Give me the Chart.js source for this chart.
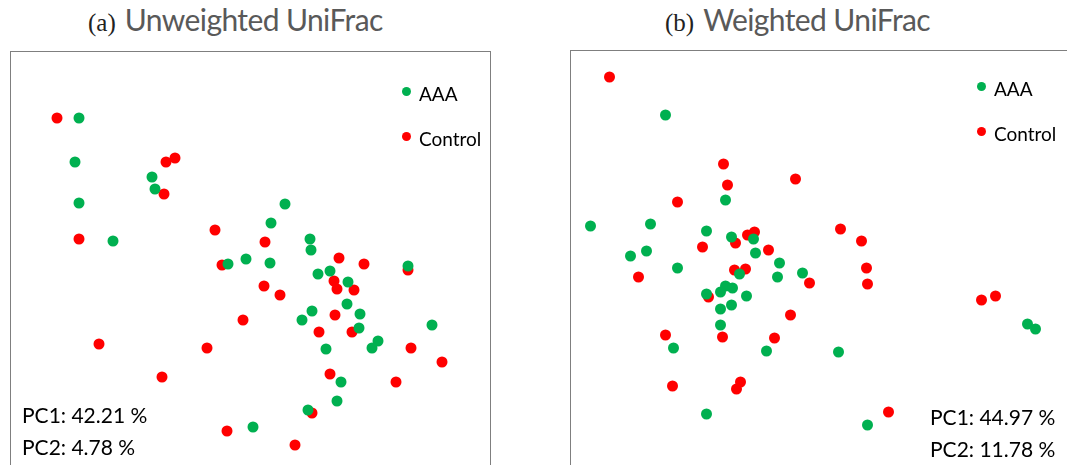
<!DOCTYPE html>
<html>
<head>
<meta charset="utf-8">
<script src="https://cdn.jsdelivr.net/npm/chart.js@4.4.0/dist/chart.umd.min.js"></script>
<style>
  html, body { margin: 0; padding: 0; background: #fff; }
  #page { position: relative; width: 1067px; height: 465px; overflow: hidden; font-family: Lato, "Open Sans", sans-serif; }
  .title { position: absolute; top: 1px; white-space: nowrap; color: #595959; font-size: 30px; letter-spacing: -0.6px; }
  .title .tag { font-family: "Liberation Serif", "DejaVu Serif", serif; color: #222; font-size: 25px; margin-right: 9px; letter-spacing: 0; }
  .box { position: absolute; border: 1.5px solid #7f7f7f; box-sizing: border-box; }
  .box canvas { position: absolute; left: 0; top: 0; }
  .legend { position: absolute; font-size: 19px; color: #000; line-height: 1; }
  .legend div { position: relative; height: 45px; padding-left: 17px; }
  .legend span.dot { position: absolute; left: 0; top: 3px; width: 9px; height: 9px; border-radius: 50%; }
  .pc { position: absolute; font-size: 21px; color: #000; line-height: 32px; white-space: nowrap; }
</style>
</head>
<body>
<div id="page">
  <div class="title" style="left:88px"><span class="tag">(a)</span>Unweighted UniFrac</div>
  <div class="title" style="left:665px"><span class="tag">(b)</span>Weighted UniFrac</div>

  <div class="box" id="boxA" style="left:10px; top:51px; width:481px; height:430px">
    <canvas id="chartA" width="478" height="427"></canvas>
  </div>
  <div class="box" id="boxB" style="left:570px; top:50px; width:520px; height:430px">
    <canvas id="chartB" width="517" height="427"></canvas>
  </div>

  <div class="legend" style="left:402px; top:84px">
    <div><span class="dot" style="background:#00b050"></span>AAA</div>
    <div><span class="dot" style="background:#ff0000"></span>Control</div>
  </div>
  <div class="legend" style="left:977px; top:79px">
    <div><span class="dot" style="background:#00b050"></span>AAA</div>
    <div><span class="dot" style="background:#ff0000"></span>Control</div>
  </div>

  <div class="pc" style="left:22px; top:399px">PC1: 42.21 %<br>PC2: 4.78 %</div>
  <div class="pc" style="left:930px; top:401px">PC1: 44.97 %<br>PC2: 11.78 %</div>
</div>

<script>
// PCoA scores (arbitrary units, x1000)
const groups = ['AAA', 'Control']
const colors = ['#00b050', '#ff0000']

const unweightedAAA = [
  [-172, 143], [-176, 99], [-99, 84], [-96, 72], [-172, 58], [34, 57], [20, 38], [-138, 20],
  [59, 22], [60, 11], [157, -5], [-23, -3], [-5, 2], [19, -2], [67, -13], [79, -10],
  [97, -21], [96, -43], [61, -50], [109, -53], [51, -59], [108, -67], [181, -64], [127, -80],
  [121, -87], [75, -88], [90, -121], [86, -140], [57, -149], [2, -166]
]
const unweightedControl = [
  [-194, 143], [-85, 99], [-76, 103], [-87, 67], [-36, 31], [-172, 22], [14, 19], [88, 3],
  [113, -3], [157, -9], [-29, -4], [83, -20], [86, -28], [103, -29], [13, -25], [29, -34],
  [84, -54], [-8, -59], [68, -71], [101, -71], [-152, -83], [-44, -87], [160, -87], [191, -101],
  [-89, -116], [79, -113], [145, -121], [61, -152], [-24, -170], [44, -184]
]

const weightedAAA = [
  [-155, 145], [-95, 60], [-230, 34], [-170, 36], [-114, 29], [-89, 23], [-67, 21], [-190, 4],
  [-174, 9], [-65, 7], [-41, -3], [-143, -8], [-81, -14], [-43, -17], [-18, -13], [-95, -26],
  [-88, -28], [-100, -32], [-114, -34], [-74, -36], [-89, -45], [-100, -49], [-100, -65], [207, -64],
  [215, -69], [-147, -88], [-54, -91], [18, -92], [-114, -154], [47, -165]
]
const weightedControl = [
  [-211, 183], [-97, 96], [-93, 75], [-25, 81], [-143, 58], [20, 31], [-73, 25], [-66, 28],
  [-85, 17], [41, 19], [-118, 13], [-52, 10], [-86, -10], [-75, -9], [46, -8], [-182, -17],
  [-11, -23], [47, -24], [-112, -37], [161, -40], [175, -36], [-30, -55], [-155, -75], [-98, -77],
  [-46, -78], [-80, -122], [-84, -129], [-148, -126], [68, -152]
]

const toXY = arr => arr.map(p => ({ x: p[0], y: p[1] }))

function makeChart(id, series, xRange, yRange) {
  return new Chart(document.getElementById(id), {
    type: 'scatter',
    data: {
      datasets: series.map((s, i) => ({
        label: groups[i],
        data: toXY(s),
        backgroundColor: colors[i],
        borderColor: colors[i],
        pointRadius: 5.5,
        pointHoverRadius: 5.5,
        borderWidth: 0,
        clip: false
      }))
    },
    options: {
      responsive: false,
      animation: false,
      layout: { padding: 0, autoPadding: false },
      plugins: { legend: { display: false }, tooltip: { enabled: false } },
      scales: {
        x: { type: 'linear', display: false, min: xRange[0], max: xRange[1] },
        y: { type: 'linear', display: false, min: yRange[0], max: yRange[1] }
      }
    }
  })
}

makeChart('chartA', [unweightedAAA, unweightedControl], [-240, 238], [-218, 209])
makeChart('chartB', [weightedAAA, weightedControl], [-249.5, 267.5], [-218, 209])
</script>
</body>
</html>
